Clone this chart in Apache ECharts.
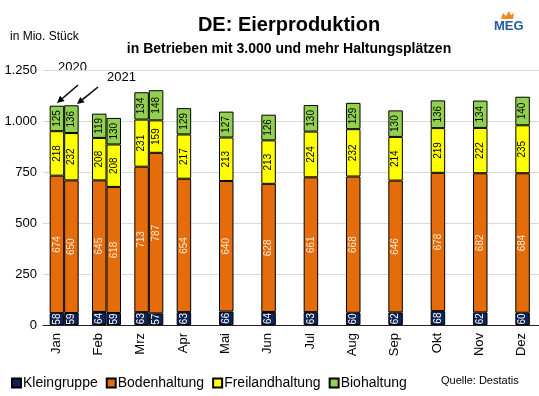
<!DOCTYPE html>
<html>
<head>
<meta charset="utf-8">
<script src="https://cdn.jsdelivr.net/npm/echarts@6/dist/echarts.min.js"></script>
<style>
  html, body { margin: 0; padding: 0; background: #fff; }
  #chart { width: 539px; height: 396px; }
</style>
</head>
<body>
<div id="chart"></div>
<script>
var months = ['Jan', 'Feb', 'Mrz', 'Apr', 'Mai', 'Jun', 'Jul', 'Aug', 'Sep', 'Okt', 'Nov', 'Dez'];
var yTicks = [0, 250, 500, 750, 1000, 1250];

// 2020, alle Monate
var klein2020 = [58, 64, 63, 63, 66, 64, 63, 60, 62, 68, 62, 60];
var boden2020 = [674, 645, 713, 654, 640, 628, 661, 668, 646, 678, 682, 684];
var frei2020 = [218, 208, 231, 217, 213, 213, 224, 232, 214, 219, 222, 235];
var bio2020 = [125, 119, 134, 129, 127, 126, 130, 129, 130, 136, 134, 140];

// 2021, bisher nur Jan-Mrz
var klein2021 = [59, 59, 57];
var boden2021 = [650, 618, 787];
var frei2021 = [232, 208, 159];
var bio2021 = [136, 130, 148];

var FONT = 'Liberation Sans, Arial, sans-serif';
var colors = {
  Kleingruppe: '#0e2356',
  Bodenhaltung: '#e46c0a',
  Freilandhaltung: '#ffff00',
  Biohaltung: '#92d050'
};
var labelColors = {
  Kleingruppe: '#ffffff',
  Bodenhaltung: '#fde9d9',
  Freilandhaltung: '#000000',
  Biohaltung: '#000000'
};

function fmt(v) {
  return String(v).replace(/\B(?=(\d{3})+(?!\d))/g, '.');
}

function makeSeries(name, data, stack) {
  return {
    name: name,
    type: 'bar',
    stack: stack,
    data: data,
    barWidth: 14.5,
    barGap: '0%',
    itemStyle: { color: colors[name], borderColor: '#000', borderWidth: 1 },
    label: {
      show: true,
      position: 'inside',
      rotate: 90,
      fontFamily: FONT,
      fontSize: 10,
      color: labelColors[name]
    }
  };
}

function arrow(x1, y1, x2, y2) {
  var dx = x2 - x1, dy = y2 - y1;
  var len = Math.sqrt(dx * dx + dy * dy);
  var ux = dx / len, uy = dy / len;
  var bx = x2 - ux * 7, by = y2 - uy * 7;
  return [
    { type: 'line', shape: { x1: x1, y1: y1, x2: bx, y2: by }, style: { stroke: '#000', lineWidth: 1.5 } },
    { type: 'polygon', shape: { points: [[x2, y2], [bx - uy * 3.5, by + ux * 3.5], [bx + uy * 3.5, by - ux * 3.5]] }, style: { fill: '#000' } }
  ];
}

var chart = echarts.init(document.getElementById('chart'));
chart.setOption({
  animation: false,
  textStyle: { fontFamily: FONT },
  title: [
    { text: 'DE: Eierproduktion', left: 284, top: 10, textAlign: 'center',
      textStyle: { fontFamily: FONT, fontSize: 20, fontWeight: 'bold', color: '#000' } },
    { text: 'in Betrieben mit 3.000 und mehr Haltungsplätzen', left: 284, top: 37, textAlign: 'center',
      textStyle: { fontFamily: FONT, fontSize: 14, fontWeight: 'bold', color: '#000' } }
  ],
  legend: {
    left: 6,
    top: 371,
    itemWidth: 9,
    itemHeight: 9,
    itemGap: 8,
    icon: 'rect',
    textStyle: { fontFamily: FONT, fontSize: 14, color: '#000', padding: [0, 0, 0, -3] },
    data: ['Kleingruppe', 'Bodenhaltung', 'Freilandhaltung', 'Biohaltung']
  },
  // the plot runs a little past the right edge, like in the original
  grid: { left: 43, width: 508, top: 70, bottom: 71, containLabel: false, outerBoundsMode: 'none' },
  xAxis: {
    type: 'category',
    data: months,
    axisLine: { lineStyle: { color: '#222', width: 1 } },
    axisTick: { show: false },
    axisLabel: {
      rotate: 90,
      margin: 8,
      fontFamily: FONT,
      fontSize: 13,
      color: '#000',
      verticalAlign: 'bottom',
      lineHeight: 16
    }
  },
  yAxis: {
    type: 'value',
    min: yTicks[0],
    max: yTicks[yTicks.length - 1],
    interval: 250,
    axisLine: { show: false },
    axisTick: { show: false },
    splitLine: { lineStyle: { color: '#d9d9d9', width: 1 } },
    axisLabel: { fontFamily: FONT, fontSize: 13, color: '#000', margin: 6, formatter: fmt }
  },
  series: [
    makeSeries('Kleingruppe', klein2020, '2020'),
    makeSeries('Bodenhaltung', boden2020, '2020'),
    makeSeries('Freilandhaltung', frei2020, '2020'),
    makeSeries('Biohaltung', bio2020, '2020'),
    makeSeries('Kleingruppe', klein2021, '2021'),
    makeSeries('Bodenhaltung', boden2021, '2021'),
    makeSeries('Freilandhaltung', frei2021, '2021'),
    makeSeries('Biohaltung', bio2021, '2021')
  ],
  graphic: [
    { type: 'text', left: 10, top: 31, style: { text: 'in Mio. Stück', font: '12px ' + FONT, fill: '#000' } },
    { type: 'text', left: 58, top: 61, style: { text: '2020', font: '13px ' + FONT, fill: '#000' } },
    { type: 'text', left: 107, top: 71, style: { text: '2021', font: '13px ' + FONT, fill: '#000' } },
    { type: 'text', left: 441, top: 375, style: { text: 'Quelle: Destatis', font: '11px ' + FONT, fill: '#000' } },
    { type: 'polygon', shape: { points: [[501, 19], [503, 13], [506, 16], [509, 11], [511, 15], [514, 13], [513, 19]] }, style: { fill: '#f08a24' } },
    { type: 'text', left: 494, top: 20, style: { text: 'MEG', font: 'bold 13px ' + FONT, fill: '#1f5aa6' } }
  ].concat(arrow(78, 85, 57, 103), arrow(98, 87, 77, 104))
});
</script>
</body>
</html>
